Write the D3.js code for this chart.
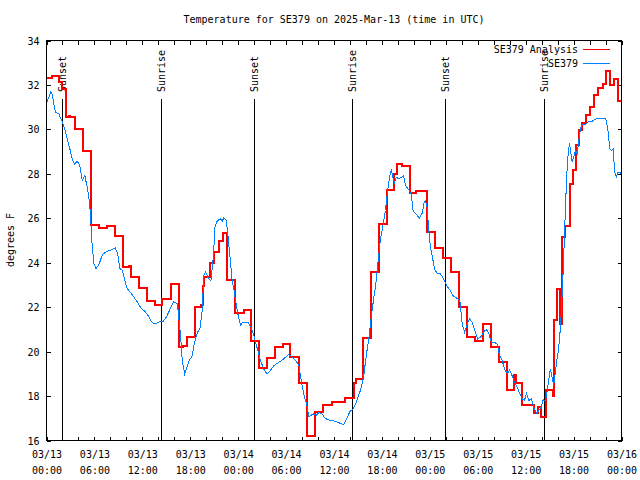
<!DOCTYPE html>
<html>
<head>
<meta charset="utf-8">
<script src="https://cdn.jsdelivr.net/npm/d3@7"></script>
<style>
  body { margin: 0; background: #fff; }
  svg { display: block; font-family: "DejaVu Sans Mono", monospace; font-size: 10px; }
  .axis path { display: none; }
  .axis line { stroke: #000; shape-rendering: crispEdges; }
  .axis text { fill: #000; font-family: "DejaVu Sans Mono", monospace; font-size: 10px; }
</style>
</head>
<body>
<svg id="chart" width="640" height="480"></svg>
<script>
// hours after 2025-03-13 00:00 UTC

// SE379 observations
var obsHours = [0.0, 0.3, 0.55, 0.7, 0.92, 1.13, 1.54, 1.96, 2.25, 2.59, 2.92, 3.21, 3.5, 3.84, 4.17, 4.47, 4.8, 5.09, 5.3, 5.51,
  5.63, 5.75, 5.95, 6.2, 6.6, 7.0, 7.4, 7.8, 8.2, 8.6, 8.9, 9.2, 9.5, 9.8, 10.1, 10.5, 10.95, 11.4, 11.8, 12.3,
  12.7, 13.1, 13.5, 13.8, 14.2, 14.6, 15.0, 15.4, 15.9, 16.4, 16.6, 16.8, 17.0, 17.3, 17.6, 17.9, 18.2, 18.5, 18.9, 19.2,
  19.5, 19.7, 19.9, 20.3, 20.6, 20.9, 21.1, 21.4, 21.8, 22.0, 22.2, 22.5, 22.7, 23.0, 23.25, 23.46, 23.67, 23.96, 24.3, 24.58,
  25.2, 25.6, 25.97, 26.4, 26.8, 27.2, 27.6, 27.97, 28.5, 29.1, 29.7, 30.3, 30.8, 31.2, 31.6, 31.9, 32.2, 32.6, 32.85, 33.1,
  33.4, 33.8, 34.1, 34.5, 34.85, 35.2, 35.8, 36.5, 36.9, 37.2, 37.57, 38.0, 38.4, 38.8, 39.3, 39.7, 40.07, 40.36, 40.66, 40.99,
  41.2, 41.5, 41.8, 42.16, 42.45, 42.66, 42.86, 43.08, 43.2, 43.36, 43.58, 43.8, 44.1, 44.5, 44.7, 44.95, 45.37, 45.66, 45.9, 46.3,
  46.7, 47.05, 47.3, 47.45, 47.66, 47.87, 48.08, 48.3, 48.58, 48.9, 49.3, 49.7, 50.1, 50.5, 50.9, 51.4, 51.76, 52.05, 52.35, 52.7,
  52.97, 53.3, 53.7, 54.0, 54.35, 54.8, 55.1, 55.4, 55.7, 56.1, 56.4, 56.76, 57.06, 57.35, 57.7, 58.0, 58.3, 58.6, 58.95, 59.27,
  59.57, 59.85, 60.1, 60.4, 60.7, 61.0, 61.36, 61.65, 61.94, 62.2, 62.5, 62.7, 62.9, 63.1, 63.3, 63.5, 63.7, 63.9, 64.1, 64.36,
  64.57, 64.7, 64.86, 65.0, 65.2, 65.35, 65.5, 65.6, 65.83, 66.0, 66.24, 66.45, 66.65, 66.87, 67.08, 67.5, 67.84, 68.34, 68.7, 69.15,
  69.8, 70.04, 70.3, 70.54, 70.76, 70.97, 71.14, 71.35, 71.55, 71.8, 72.0];
var obsTemps = [31.2, 31.45, 31.7, 31.6, 31.15, 30.77, 30.7, 30.35, 30.07, 29.58, 29.13, 28.68, 28.42, 28.57, 28.37, 27.7, 27.92, 27.4, 26.95, 26.2,
  25.3, 24.63, 23.95, 23.73, 23.95, 24.37, 24.47, 24.55, 24.58, 24.67, 24.43, 23.73, 23.65, 23.2, 22.83, 22.67, 22.45, 22.22, 21.97, 21.82,
  21.63, 21.37, 21.25, 21.28, 21.35, 21.35, 21.55, 21.85, 22.25, 22.15, 21.4, 20.65, 19.6, 19.0, 19.3, 19.64, 19.75, 20.35, 20.87, 21.02,
  21.85, 23.42, 23.6, 23.27, 23.2, 24.32, 25.6, 25.9, 25.97, 25.87, 26.02, 25.9, 25.3, 24.18, 23.2, 22.83, 22.3, 21.7, 21.18, 21.33,
  21.33, 21.1, 20.72, 20.13, 19.6, 19.22, 19.0, 19.12, 19.38, 19.52, 19.67, 19.87, 19.75, 19.6, 19.38, 18.7, 18.1, 17.58, 17.08, 17.13,
  17.2, 17.13, 17.27, 17.2, 17.02, 16.93, 16.9, 16.82, 16.75, 16.72, 16.98, 17.3, 17.42, 17.72, 18.25, 18.85, 19.9, 20.57, 21.55, 22.45,
  22.9, 24.0, 25.0, 25.75, 26.35, 27.1, 27.62, 28.07, 28.15, 27.85, 27.62, 27.85, 27.78, 27.85, 27.92, 27.47, 27.28, 27.1, 26.35, 26.17,
  26.02, 26.23, 26.73, 26.8, 26.5, 25.45, 24.7, 24.3, 23.72, 23.53, 23.5, 23.3, 22.97, 22.78, 22.52, 22.4, 22.3, 21.25, 20.87, 21.25,
  21.47, 21.33, 20.87, 20.57, 20.65, 20.92, 20.98, 20.8, 20.42, 20.42, 20.35, 19.82, 19.6, 19.22, 19.0, 19.18, 18.92, 18.62, 18.4, 18.1,
  17.88, 17.8, 18.13, 17.8, 17.88, 17.5, 17.24, 17.35, 17.5, 17.83, 17.8, 18.25, 18.78, 19.22, 18.85, 18.47, 19.0, 19.6, 20.05, 21.1,
  22.6, 23.65, 25.2, 26.7, 28.3, 29.05, 29.38, 29.05, 28.53, 28.75, 29.05, 28.9, 29.5, 30.03, 30.22, 30.22, 30.35, 30.37, 30.45, 30.5,
  30.5, 30.47, 29.95, 29.13, 29.05, 29.13, 28.07, 27.85, 28.07, 28.07, 28.0];

// SE379 Analysis (step)
var anaHours = [0, 0.71, 1.54, 1.88, 2.5, 2.8, 3.0, 3.59, 4.59, 5.59, 6.55, 7.6, 8.6, 9.6, 10.3, 10.6, 11.6, 12.6, 13.6, 14.5,
  15.6, 16.55, 17.1, 17.6, 18.6, 19.4, 19.6, 19.75, 20.5, 20.95, 21.6, 22.04, 22.6, 23.6, 24.7, 25.63, 26.6, 27.6, 28.6, 29.6,
  30.55, 31.6, 32.64, 33.6, 34.64, 35.7, 37.4, 38.45, 38.8, 39.65, 40.6, 41.65, 42.66, 43.5, 43.9, 44.5, 45.5, 46.3, 47.6, 48.65,
  49.67, 50.65, 51.6, 52.6, 53.6, 54.7, 55.6, 56.6, 57.6, 58.5, 58.55, 58.75, 59.57, 61.0, 61.5, 61.94, 62.6, 63.45, 63.6, 63.9,
  64.3, 64.6, 64.98, 65.6, 65.95, 66.3, 66.65, 67.08, 67.6, 68.0, 68.6, 69.0, 69.7, 70.0, 70.54, 71.0, 71.55, 72.0];
var anaTemps = [32.32, 32.42, 32.13, 31.8, 30.55, 30.62, 30.55, 30.03, 29.02, 25.7, 25.58, 25.67, 25.22, 23.83, 23.86, 23.37, 22.87, 22.27, 22.1, 22.36,
  23.06, 20.23, 20.26, 20.68, 22.02, 22.1, 22.97, 23.37, 23.98, 24.47, 25.0, 25.35, 23.23, 21.74, 21.88, 20.47, 19.27, 19.72, 20.2, 20.35,
  19.75, 18.6, 16.22, 17.3, 17.62, 17.72, 17.92, 18.58, 18.78, 20.6, 23.6, 25.75, 27.28, 28.0, 28.45, 28.37, 27.15, 27.22, 25.4, 24.67,
  24.22, 23.57, 22.03, 20.65, 20.5, 21.25, 20.2, 19.55, 18.28, 18.58, 18.95, 18.58, 17.58, 17.24, 17.5, 17.05, 18.28, 18.0, 21.43, 22.83,
  21.25, 25.15, 25.67, 27.55, 28.18, 29.3, 29.98, 30.28, 30.63, 31.0, 31.53, 31.87, 32.05, 32.62, 32.02, 32.27, 31.3, 31.3];

var sunHours = [2.0, 14.3, 25.96, 38.2, 49.96, 62.25];
var sunLabels = ["Sunset", "Sunrise", "Sunset", "Sunrise", "Sunset", "Sunrise"];
var yTicks = [16, 18, 20, 22, 24, 26, 28, 30, 32, 34];

var seriesNames = ["SE379 Analysis", "SE379"];
var seriesColors = ["#ff0000", "#0080ff"];

var t0 = Date.UTC(2025, 2, 13, 0, 0);
function toDate(h) { return new Date(t0 + h * 3600000); }

var svg = d3.select("#chart");
var plotL = 46.5, plotR = 621.5, plotT = 40.5, plotB = 440.5;

var x = d3.scaleUtc().domain([toDate(0), toDate(72)]).range([plotL, plotR]);
var y = d3.scaleLinear().domain([16, 34]).range([plotB, plotT]);

svg.append("rect").attr("width", 640).attr("height", 480).attr("fill", "#fff");

// title
svg.append("text")
  .attr("x", 334).attr("y", 23)
  .attr("text-anchor", "middle")
  .text("Temperature for SE379 on 2025-Mar-13 (time in UTC)");

// y label
svg.append("text")
  .attr("transform", "translate(14,240) rotate(-90)")
  .attr("text-anchor", "middle")
  .text("degrees F");

// ticks every 2 hours, all four sides point inward
var minor = d3.utcHour.every(2);
svg.append("g").attr("class", "axis")
  .attr("transform", "translate(0," + plotB + ")")
  .call(d3.axisBottom(x).ticks(minor).tickSize(-4).tickFormat(""));
svg.append("g").attr("class", "axis")
  .attr("transform", "translate(0," + plotT + ")")
  .call(d3.axisTop(x).ticks(minor).tickSize(-4).tickFormat(""));

// x labels every 6h, two lines
var fmt = d3.utcFormat("%m/%d|%H:%M");
var xlab = svg.append("g").attr("class", "axis")
  .attr("transform", "translate(0," + plotB + ")")
  .call(d3.axisBottom(x).ticks(d3.utcHour.every(6)).tickSize(0).tickFormat(fmt));
xlab.selectAll(".tick text").each(function(d) {
  var parts = fmt(d).split("|");
  var t = d3.select(this).text("").attr("dy", null).attr("y", null);
  t.append("tspan").attr("x", 0).attr("y", 17).text(parts[0]);
  t.append("tspan").attr("x", 0).attr("y", 33).text(parts[1]);
});

svg.append("g").attr("class", "axis")
  .attr("transform", "translate(" + plotL + ",0)")
  .call(d3.axisLeft(y).tickValues(yTicks).tickSize(-4).tickPadding(7).tickFormat(d3.format("d")))
  .selectAll("text").attr("dy", "0.35em");
svg.append("g").attr("class", "axis")
  .attr("transform", "translate(" + plotR + ",0)")
  .call(d3.axisRight(y).tickValues(yTicks).tickSize(-4).tickFormat(""));

// sunrise / sunset
var sun = svg.append("g");
sun.selectAll("line").data(sunHours).enter().append("line")
  .attr("x1", function(d) { return Math.round(x(toDate(d))) + 0.5; })
  .attr("x2", function(d) { return Math.round(x(toDate(d))) + 0.5; })
  .attr("y1", 99).attr("y2", plotB)
  .attr("stroke", "#000").attr("shape-rendering", "crispEdges");
sun.selectAll("text").data(sunHours).enter().append("text")
  .attr("transform", function(d) { return "translate(" + (Math.round(x(toDate(d))) + 0.5) + ",92) rotate(-90)"; })
  .attr("dy", "0.35em")
  .text(function(d, i) { return sunLabels[i]; });

// series
var obsLine = d3.line()
  .x(function(d, i) { return x(toDate(obsHours[i])); })
  .y(function(d) { return y(d); });
var anaLine = d3.line()
  .curve(d3.curveStepAfter)
  .x(function(d, i) { return x(toDate(anaHours[i])); })
  .y(function(d) { return y(d); });

svg.append("path").datum(anaTemps)
  .attr("d", anaLine)
  .attr("fill", "none").attr("stroke", seriesColors[0]).attr("stroke-width", 2)
  .attr("shape-rendering", "crispEdges");
svg.append("path").datum(obsTemps)
  .attr("d", obsLine)
  .attr("fill", "none").attr("stroke", seriesColors[1]).attr("stroke-width", 1)
  .attr("shape-rendering", "crispEdges");

// legend
var legendItems = seriesNames.map(function(n, i) { return { name: n, color: seriesColors[i], row: i }; });
var leg = svg.append("g").selectAll("g").data(legendItems).enter().append("g")
  .attr("transform", function(d) { return "translate(0," + (49 + d.row * 14) + ")"; });
leg.append("text").attr("x", 578).attr("dy", "0.35em").attr("text-anchor", "end").text(function(d) { return d.name; });
leg.append("rect").attr("x", 583).attr("y", 0).attr("width", 27).attr("height", 1)
  .attr("shape-rendering", "crispEdges")
  .style("fill", function(d) { return d.color; });

// border
svg.append("rect")
  .attr("x", plotL).attr("y", plotT)
  .attr("width", plotR - plotL).attr("height", plotB - plotT)
  .attr("fill", "none").attr("stroke", "#000").attr("shape-rendering", "crispEdges");
</script>
</body>
</html>
